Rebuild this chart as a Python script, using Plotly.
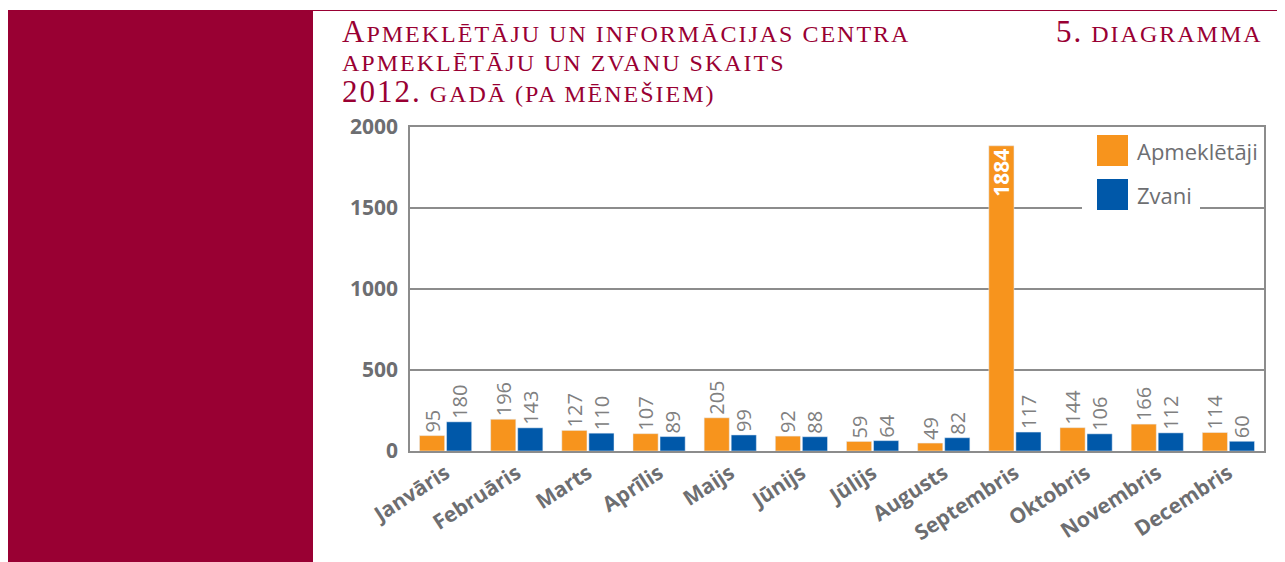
import plotly.graph_objects as go

months = ["Janvāris", "Februāris", "Marts", "Aprīlis", "Maijs", "Jūnijs",
          "Jūlijs", "Augusts", "Septembris", "Oktobris", "Novembris", "Decembris"]
apmekletaji = [95, 196, 127, 107, 205, 92, 59, 49, 1884, 144, 166, 114]
zvani = [180, 143, 110, 89, 99, 88, 64, 82, 117, 106, 112, 60]
series_names = ["Apmeklētāji", "Zvani"]
y_ticks = [0, 500, 1000, 1500, 2000]
title_lines = ["Apmeklētāju un informācijas centra",
               "apmeklētāju un zvanu skaits",
               "2012. gadā (pa mēnešiem)"]
chart_no = "5. diagramma"

# page has an 8px body margin; all positions below are in screen pixels
OFF = 8
W, H = 1285 - OFF, 562 - OFF
L, R, T, B = 410, 1264, 127, 451
CRIMSON = "#990033"
ORANGE = "#F7941D"
BLUE = "#0058A9"
GRAY = "#6D6E71"
LGRAY = "#808080"
AX = "#8C8C8C"
CAP, SC, SPACING = 31, 24, 2  # small-caps emulation sizes


def px(x):
    return (x - L) / (R - L)


def py(y):
    return (B - y) / (B - T)


def text_pos(vals, big=1000):
    return ["inside" if v > big else "outside" for v in vals]


def small_caps(s, big_first=False, big_prefix=""):
    """Big part for leading capital/digits, rest at small-cap size."""
    if big_prefix and s.startswith(big_prefix):
        head, rest = big_prefix, s[len(big_prefix):]
    elif big_first:
        head, rest = s[0], s[1:]
    else:
        head, rest = "", s
    out = ""
    if head:
        out += f'<span style="font-size:{CAP}px;letter-spacing:{SPACING}px">{head}</span>'
    out += f'<span style="letter-spacing:{SPACING}px">{rest}</span>'
    return out


fig = go.Figure()
fig.add_trace(go.Bar(
    x=months, y=apmekletaji, name=series_names[0], marker_color=ORANGE,
    text=[str(v) for v in apmekletaji], textposition=text_pos(apmekletaji),
    textangle=-90, insidetextanchor="end", constraintext="none",
    outsidetextfont=dict(family="Open Sans", size=20, color=LGRAY),
    insidetextfont=dict(family="Open Sans", size=21, color="white", weight="bold"),
    cliponaxis=False, showlegend=False,
))
fig.add_trace(go.Bar(
    x=months, y=zvani, name=series_names[1], marker_color=BLUE,
    text=[str(v) for v in zvani], textposition=text_pos(zvani),
    textangle=-90, constraintext="none",
    outsidetextfont=dict(family="Open Sans", size=20, color=LGRAY),
    cliponaxis=False, showlegend=False,
))

shapes = [
    dict(type="rect", xref="paper", yref="paper", x0=px(OFF - 2), x1=px(313), y0=py(570), y1=py(10),
         fillcolor=CRIMSON, line_width=0, layer="above"),
    dict(type="line", xref="paper", yref="paper", x0=px(313), x1=px(1290), y0=py(10.5), y1=py(10.5),
         line=dict(color=CRIMSON, width=1)),
    dict(type="rect", xref="paper", yref="paper", x0=px(1082), x1=px(1200), y0=py(216), y1=py(129),
         fillcolor="white", line_width=0, layer="above"),
    dict(type="rect", xref="paper", yref="paper", x0=px(1097), x1=px(1128), y0=py(166), y1=py(135),
         fillcolor=ORANGE, line_width=0, layer="above"),
    dict(type="rect", xref="paper", yref="paper", x0=px(1097), x1=px(1128), y0=py(210), y1=py(179),
         fillcolor=BLUE, line_width=0, layer="above"),
]

title_font = dict(family="Liberation Serif", size=SC, color=CRIMSON, textcase="upper")
title_centers = [31, 63, 92]
title_texts = [small_caps(title_lines[0], big_first=True),
               small_caps(title_lines[1]),
               small_caps(title_lines[2], big_prefix="2012.")]
annotations = []
for txt, yc in zip(title_texts, title_centers):
    annotations.append(dict(text=txt, xref="paper", yref="paper", x=px(340), y=py(yc),
                            xanchor="left", yanchor="middle", showarrow=False, font=title_font))
annotations.append(dict(text=small_caps(chart_no, big_prefix="5."), xref="paper", yref="paper",
                        x=px(1265), y=py(title_centers[0]), xanchor="right", yanchor="middle",
                        showarrow=False, font=title_font))
for name, yc in zip(series_names, [151, 195]):
    annotations.append(dict(text=name, xref="paper", yref="paper", x=px(1135), y=py(yc),
                            xanchor="left", yanchor="middle", showarrow=False,
                            font=dict(family="Open Sans", size=22, color=GRAY)))

fig.update_layout(
    width=W, height=H,
    margin=dict(l=L - OFF, r=W + OFF - R, t=T - OFF, b=H + OFF - B, pad=0),
    paper_bgcolor="white", plot_bgcolor="white",
    barmode="group", bargap=0.24, bargroupgap=0.07,
    shapes=shapes, annotations=annotations,
    showlegend=False,
)
fig.update_xaxes(
    tickangle=-33, tickfont=dict(family="Open Sans", size=21, color=GRAY, weight="bold"),
    showline=True, mirror=True, linecolor=AX, linewidth=1.5, ticks="", showgrid=False,
)
fig.update_yaxes(
    range=[0, 2000], tickvals=y_ticks, ticktext=[str(v) for v in y_ticks],
    tickfont=dict(family="Open Sans", size=21, color=GRAY, weight="bold"),
    showline=True, mirror=True, linecolor=AX, linewidth=1.5,
    showgrid=True, gridcolor=AX, gridwidth=1.5, zeroline=False, ticks="", ticklabelstandoff=6,
)

fig.write_html("out.html")
